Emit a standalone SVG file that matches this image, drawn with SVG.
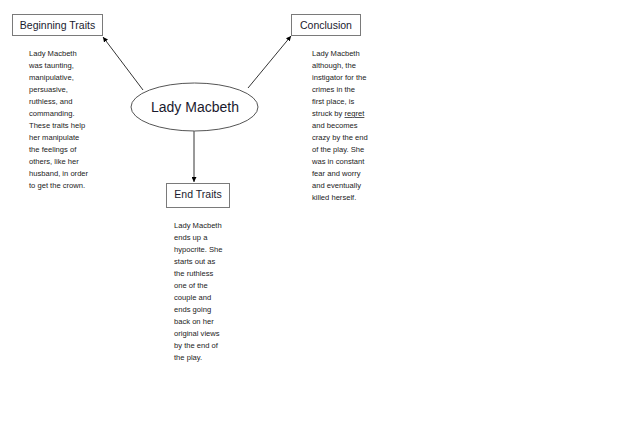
<svg xmlns="http://www.w3.org/2000/svg" width="640" height="424" viewBox="0 0 640 424">
<style>
.box{fill:#fff;stroke:#7a7a7a;stroke-width:1}
.ell{fill:#fff;stroke:#555;stroke-width:1}
.title{font-family:"Liberation Sans",Arial,sans-serif;font-size:10.5px;fill:#1a1a2e;text-anchor:middle}
.big{font-family:"Liberation Sans",Arial,sans-serif;font-size:14px;fill:#1a1a2e;text-anchor:middle}
.body{font-family:"Liberation Sans",Arial,sans-serif;font-size:7.6px;fill:#222}
.conn{stroke:#000;stroke-width:0.8;fill:none;marker-end:url(#ah)}
</style>
<defs>
<marker id="ah" viewBox="0 0 10 10" refX="10" refY="5" markerWidth="5" markerHeight="5" orient="auto" markerUnits="userSpaceOnUse">
<path d="M0,0 L10,5 L0,10 z" fill="#000"/>
</marker>
</defs>
<rect width="640" height="424" fill="#fff"/>
<g id="connectors">
<line class="conn" x1="143" y1="90" x2="103" y2="37"/>
<line class="conn" x1="248" y1="88" x2="291" y2="36"/>
<line class="conn" x1="194" y1="131" x2="194" y2="182"/>
</g>
<g id="lady-macbeth">
<ellipse class="ell" cx="194.5" cy="107" rx="63.5" ry="24"/>
<text class="big" x="195" y="112">Lady Macbeth</text>
</g>
<g id="beginning-traits">
<rect class="box" x="12.5" y="14.5" width="90" height="21"/>
<text class="title" x="57.5" y="29">Beginning Traits</text>
</g>
<g id="conclusion">
<rect class="box" x="291.5" y="14.5" width="69" height="21"/>
<text class="title" x="326" y="29">Conclusion</text>
</g>
<g id="end-traits">
<rect class="box" x="166.5" y="183.5" width="63" height="24"/>
<text class="title" x="198" y="198">End Traits</text>
</g>
<g id="beginning-text">
<text class="body" x="29" y="56">
<tspan x="29" dy="0">Lady Macbeth</tspan>
<tspan x="29" dy="12">was taunting,</tspan>
<tspan x="29" dy="12">manipulative,</tspan>
<tspan x="29" dy="12">persuasive,</tspan>
<tspan x="29" dy="12">ruthless, and</tspan>
<tspan x="29" dy="12">commanding.</tspan>
<tspan x="29" dy="12">These traits help</tspan>
<tspan x="29" dy="12">her manipulate</tspan>
<tspan x="29" dy="12">the feelings of</tspan>
<tspan x="29" dy="12">others, like her</tspan>
<tspan x="29" dy="12">husband, in order</tspan>
<tspan x="29" dy="12">to get the crown.</tspan>
</text>
</g>
<g id="conclusion-text">
<text class="body" x="312" y="56">
<tspan x="312" dy="0">Lady Macbeth</tspan>
<tspan x="312" dy="12">although, the</tspan>
<tspan x="312" dy="12">instigator for the</tspan>
<tspan x="312" dy="12">crimes in the</tspan>
<tspan x="312" dy="12">first place, is</tspan>
<tspan x="312" dy="12">struck by <tspan text-decoration="underline">regret</tspan></tspan>
<tspan x="312" dy="12">and becomes</tspan>
<tspan x="312" dy="12">crazy by the end</tspan>
<tspan x="312" dy="12">of the play. She</tspan>
<tspan x="312" dy="12">was in constant</tspan>
<tspan x="312" dy="12">fear and worry</tspan>
<tspan x="312" dy="12">and eventually</tspan>
<tspan x="312" dy="12">killed herself.</tspan>
</text>
</g>
<g id="end-text">
<text class="body" x="174" y="228">
<tspan x="174" dy="0">Lady Macbeth</tspan>
<tspan x="174" dy="12">ends up a</tspan>
<tspan x="174" dy="12">hypocrite. She</tspan>
<tspan x="174" dy="12">starts out as</tspan>
<tspan x="174" dy="12">the ruthless</tspan>
<tspan x="174" dy="12">one of the</tspan>
<tspan x="174" dy="12">couple and</tspan>
<tspan x="174" dy="12">ends going</tspan>
<tspan x="174" dy="12">back on her</tspan>
<tspan x="174" dy="12">original views</tspan>
<tspan x="174" dy="12">by the end of</tspan>
<tspan x="174" dy="12">the play.</tspan>
</text>
</g>
</svg>
